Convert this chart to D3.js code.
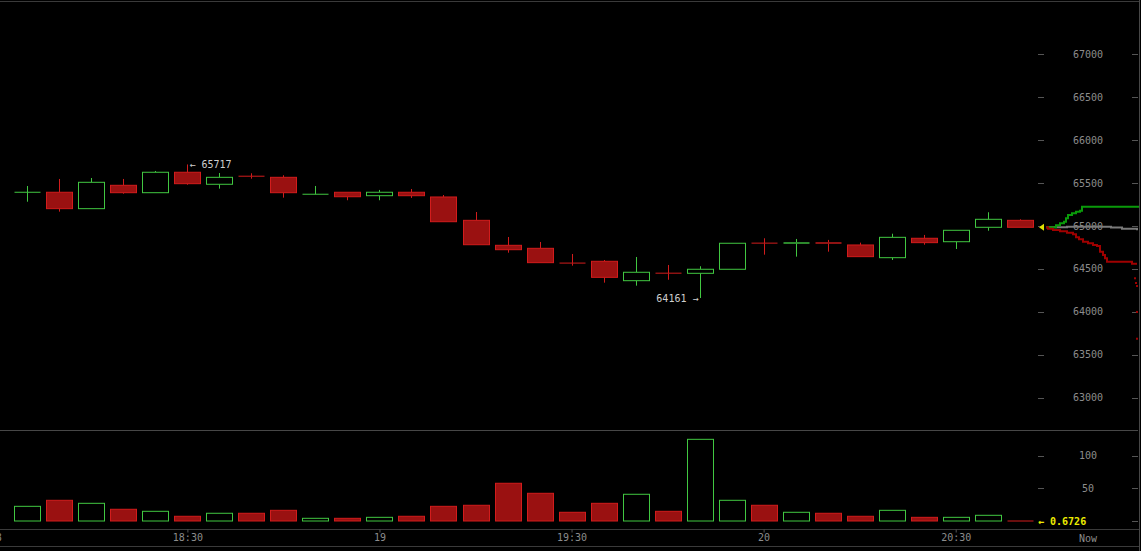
<!DOCTYPE html>
<html>
<head>
<meta charset="utf-8">
<script src="https://cdn.jsdelivr.net/npm/d3@7/dist/d3.min.js"></script>
<style>
  html, body { margin: 0; padding: 0; background: #000; }
  svg { display: block; }
  text { font-family: "DejaVu Sans Mono", monospace; font-size: 10px; }
</style>
</head>
<body>
<div id="chart"></div>
<script>
// 5 minute candles, start times
var times = ['18:05','18:10','18:15','18:20','18:25','18:30','18:35','18:40','18:45','18:50',
             '18:55','19:00','19:05','19:10','19:15','19:20','19:25','19:30','19:35','19:40',
             '19:45','19:50','19:55','20:00','20:05','20:10','20:15','20:20','20:25','20:30',
             '20:35','20:40'];
var open  = [65393,65393,65202,65474,65388,65626,65486,65582,65567,65370,
             65393,65353,65393,65338,65066,64775,64740,64570,64589,64363,
             64452,64449,64496,64802,64794,64810,64779,64631,64857,64817,
             64985,65066];
var high  = [65466,65548,65559,65548,65641,65717,65617,65614,65591,65466,
             65393,65420,65431,65361,65163,64872,64814,64674,64604,64639,
             64546,64531,64799,64857,64849,64838,64806,64910,64896,64950,
             65160,65078];
var low   = [65283,65167,65202,65376,65388,65481,65435,65551,65330,65370,
             65300,65300,65327,65050,64782,64689,64573,64538,64340,64305,
             64374,64161,64496,64666,64643,64701,64643,64604,64782,64732,
             64945,64985];
var close = [65393,65202,65509,65388,65626,65493,65567,65578,65388,65370,
             65341,65393,65353,65050,64782,64724,64573,64566,64402,64461,
             64449,64496,64799,64799,64810,64794,64643,64868,64806,64950,
             65078,64985];
var volume = [22.4,31.6,27,17.9,14.8,7.2,11.8,11.8,16.3,4.1,
              4.1,5.6,7.2,22.4,24,57.6,42.3,13.3,27,40.8,
              14.8,124.7,31.6,24,13.3,11.8,7.2,16.3,5.6,5.6,
              8.7,0.6726];

// order book depth (cumulative amount, price)
var askAmount = [0,6,10,14,18,20,22,26,30,34,36,93];
var askPrice  = [64985,64985,65008,65031,65050,65090,65128,65148,65167,65178,65225,65225];
var midAmount = [0,21,54,65,76,91];
var midPrice  = [64985,64992,64992,64983,64969,64950];
var bidAmount = [0,2,7,14,21,27,30,33,37,42,47,51,54,57,59,61,84,86,91];
var bidPrice  = [64985,64969,64954,64938,64922,64903,64868,64845,64817,64799,64779,64767,64701,64662,64624,64584,64584,64561,64561];
var bidTailAmount = [89,90,91,91,91];
var bidTailPrice  = [64391,64336,64301,63999,63687];

var priceTicks = [63000,63500,64000,64500,65000,65500,66000,66500,67000];
var volumeTicks = [0,50,100];
var timeTicks = ['18:00','18:30','19:00','19:30','20:00','20:30'];
var lastVolumeLabel = '0.6726';

var width = 1141, height = 551;
var parseTime = d3.timeParse('%H:%M');

var data = times.map(function(t, i) {
    return {t: parseTime(t), o: open[i], h: high[i], l: low[i], c: close[i], v: volume[i]};
});

// Scales
var xScale = d3.scaleTime()
    .domain([parseTime('18:00'), parseTime('20:30')])
    .range([-4.7, 955.7]);
var yScale = d3.scaleLinear().domain([63000, 67000]).range([397.7, 54.3]);
var vScale = d3.scaleLinear().domain([0, 100]).range([521, 455.5]);
var dScale = d3.scaleLinear().domain([0, 93]).range([1046, 1139]);

var bodyW = 26;
var redFill = '#9a1111', redStroke = '#d21c1c', green = '#41c741';

var svg = d3.select('#chart').append('svg')
    .attr('width', width)
    .attr('height', height);

svg.append('rect').attr('width', width).attr('height', height).attr('fill', '#000');

// Frame lines
var frame = svg.append('g').attr('stroke', '#3a3a3a').attr('stroke-width', 1);
frame.append('line').attr('x1', 0).attr('x2', 1139).attr('y1', 1.5).attr('y2', 1.5);
frame.append('line').attr('x1', 0).attr('x2', 1138).attr('y1', 430.5).attr('y2', 430.5).attr('stroke', '#474747');
frame.append('line').attr('x1', 0).attr('x2', 1139).attr('y1', 529.5).attr('y2', 529.5);
frame.append('line').attr('x1', 0).attr('x2', 1139).attr('y1', 546.5).attr('y2', 546.5);
frame.append('line').attr('x1', 1139.5).attr('x2', 1139.5).attr('y1', 0).attr('y2', 551).attr('stroke', '#474747');

// Price axis labels + dashes
var pAxis = svg.append('g').attr('class', 'y-axis');
priceTicks.forEach(function(p) {
    var y = Math.round(yScale(p)) + 0.5;
    pAxis.append('line').attr('x1', 1038).attr('x2', 1044).attr('y1', y).attr('y2', y).attr('stroke', '#555');
    pAxis.append('line').attr('x1', 1132).attr('x2', 1138).attr('y1', y).attr('y2', y).attr('stroke', '#555');
    pAxis.append('text').attr('x', 1088).attr('y', yScale(p)).attr('dy', '0.35em')
        .attr('text-anchor', 'middle').attr('fill', '#8c8c8c').text(p);
});

// Volume axis labels + dashes
var vAxis = svg.append('g').attr('class', 'v-axis');
volumeTicks.forEach(function(v) {
    var y = Math.round(vScale(v)) + 0.5;
    vAxis.append('line').attr('x1', 1038).attr('x2', 1044).attr('y1', y).attr('y2', y).attr('stroke', '#555');
    vAxis.append('line').attr('x1', 1132).attr('x2', 1138).attr('y1', y).attr('y2', y).attr('stroke', '#555');
    vAxis.append('text').attr('x', 1088).attr('y', vScale(v)).attr('dy', '0.35em')
        .attr('text-anchor', 'middle').attr('fill', '#8c8c8c').text(v);
});

// Time axis
var xAxis = d3.axisBottom(xScale)
    .tickValues(timeTicks.map(parseTime))
    .tickSize(3)
    .tickFormat(function(d) {
        return d.getMinutes() === 0 ? d3.timeFormat('%-H')(d) : d3.timeFormat('%H:%M')(d);
    });
var xg = svg.append('g').attr('class', 'x-axis')
    .attr('transform', 'translate(0,529.5)')
    .call(xAxis);
xg.select('.domain').remove();
xg.selectAll('line').attr('stroke', '#555');
xg.selectAll('text').attr('fill', '#8c8c8c').attr('y', 4).attr('dy', '0.71em')
    .style('font-family', '"DejaVu Sans Mono", monospace').style('font-size', '10px');
svg.append('text').attr('x', 1088).attr('y', 538).attr('dy', '0.35em')
    .attr('text-anchor', 'middle').attr('fill', '#8c8c8c').text('Now');

// Candles
var cx = function(d) { return Math.round(xScale(d.t)) + 0.5; };
var candles = svg.append('g').attr('class', 'candles');
data.forEach(function(d) {
    var up = d.c >= d.o;
    var col = up ? green : redStroke;
    var x = cx(d);
    var yTop = yScale(Math.max(d.o, d.c)), yBot = yScale(Math.min(d.o, d.c));
    var g = candles.append('g');
    g.append('line').attr('x1', x).attr('x2', x).attr('y1', yScale(d.h)).attr('y2', yTop).attr('stroke', col);
    g.append('line').attr('x1', x).attr('x2', x).attr('y1', yBot).attr('y2', yScale(d.l)).attr('stroke', col);
    if (yBot - yTop < 1.5) {
        g.append('line').attr('x1', x - bodyW / 2).attr('x2', x + bodyW / 2)
            .attr('y1', (yTop + yBot) / 2).attr('y2', (yTop + yBot) / 2)
            .attr('stroke', col).attr('stroke-width', Math.max(1, yBot - yTop));
    } else {
        g.append('rect').attr('x', x - bodyW / 2).attr('y', yTop)
            .attr('width', bodyW).attr('height', yBot - yTop)
            .attr('fill', up ? '#000' : redFill).attr('stroke', col);
    }
});

// Volume bars
var vols = svg.append('g').attr('class', 'volume');
data.forEach(function(d) {
    var up = d.c >= d.o;
    var x = cx(d);
    var y0 = vScale(0), y1 = vScale(d.v);
    if (y0 - y1 < 1.5) {
        vols.append('line').attr('x1', x - bodyW / 2).attr('x2', x + bodyW / 2)
            .attr('y1', y0).attr('y2', y0).attr('stroke', up ? green : redStroke);
    } else {
        vols.append('rect').attr('x', x - bodyW / 2).attr('y', y1)
            .attr('width', bodyW).attr('height', y0 - y1)
            .attr('fill', up ? '#000' : redFill).attr('stroke', up ? green : redStroke);
    }
});

// High / low annotations
var hiIdx = d3.maxIndex(data, function(d) { return d.h; });
var loIdx = d3.minIndex(data, function(d) { return d.l; });
svg.append('text').attr('x', cx(data[hiIdx]) + 2).attr('y', yScale(data[hiIdx].h)).attr('dy', '0.35em')
    .attr('fill', '#cfcfcf').text('\u2190 ' + data[hiIdx].h);
svg.append('text').attr('x', cx(data[loIdx]) - 2).attr('y', yScale(data[loIdx].l)).attr('dy', '0.35em')
    .attr('text-anchor', 'end').attr('fill', '#cfcfcf').text(data[loIdx].l + ' \u2192');

// Depth lines
var depthLine = d3.line()
    .x(function(d) { return dScale(d[0]); })
    .y(function(d) { return yScale(d[1]); })
    .curve(d3.curveStepAfter);
var zip = function(a, b) { return a.map(function(v, i) { return [v, b[i]]; }); };
svg.append('path').attr('d', depthLine(zip(midAmount, midPrice)))
    .attr('fill', 'none').attr('stroke', '#7a7a7a').attr('stroke-width', 2);
svg.append('path').attr('d', depthLine(zip(askAmount, askPrice)))
    .attr('fill', 'none').attr('stroke', '#0a9a0a').attr('stroke-width', 2);
svg.append('path').attr('d', depthLine(zip(bidAmount, bidPrice)))
    .attr('fill', 'none').attr('stroke', '#a00000').attr('stroke-width', 2);
svg.selectAll('.bidtail').data(zip(bidTailAmount, bidTailPrice)).enter().append('rect')
    .attr('class', 'bidtail')
    .attr('x', function(d) { return dScale(d[0]) - 1; })
    .attr('y', function(d) { return yScale(d[1]) - 1; })
    .attr('width', 2).attr('height', 2).attr('fill', '#a00000');

// Current price marker
var last = data[data.length - 1];
var yc = yScale(last.c);
svg.append('path')
    .attr('d', 'M1039,' + yc + 'L1044,' + (yc - 3.5) + 'L1044,' + (yc + 3.5) + 'Z')
    .attr('fill', '#e0e000');

// Last volume label
svg.append('rect').attr('x', 1036).attr('y', vScale(0) - 6).attr('width', 56).attr('height', 12).attr('fill', '#000');
svg.append('text').attr('x', 1038).attr('y', vScale(0)).attr('dy', '0.35em')
    .attr('fill', '#ecec00').style('font-weight', 'bold').text('\u2190 ' + lastVolumeLabel);
</script>
</body>
</html>
